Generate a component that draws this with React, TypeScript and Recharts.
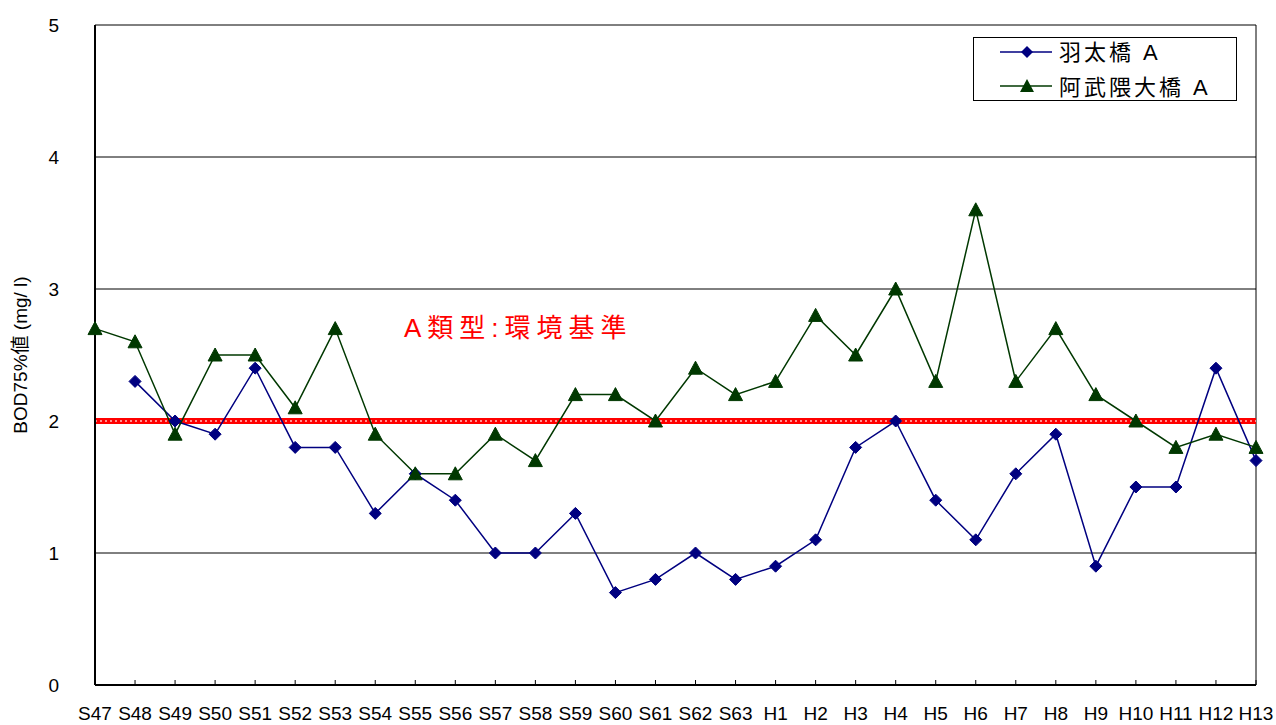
import { LineChart, Line, XAxis, YAxis, CartesianGrid, ReferenceLine, Label } from 'recharts';

const years = [
  'S47', 'S48', 'S49', 'S50', 'S51', 'S52', 'S53', 'S54', 'S55', 'S56',
  'S57', 'S58', 'S59', 'S60', 'S61', 'S62', 'S63', 'H1', 'H2', 'H3',
  'H4', 'H5', 'H6', 'H7', 'H8', 'H9', 'H10', 'H11', 'H12', 'H13',
];
const habuta = [
  null, 2.3, 2.0, 1.9, 2.4, 1.8, 1.8, 1.3, 1.6, 1.4,
  1.0, 1.0, 1.3, 0.7, 0.8, 1.0, 0.8, 0.9, 1.1, 1.8,
  2.0, 1.4, 1.1, 1.6, 1.9, 0.9, 1.5, 1.5, 2.4, 1.7,
];
const abukuma = [
  2.7, 2.6, 1.9, 2.5, 2.5, 2.1, 2.7, 1.9, 1.6, 1.6,
  1.9, 1.7, 2.2, 2.2, 2.0, 2.4, 2.2, 2.3, 2.8, 2.5,
  3.0, 2.3, 3.6, 2.3, 2.7, 2.2, 2.0, 1.8, 1.9, 1.8,
];
const yTicks = [0, 1, 2, 3, 4, 5];
const standard = 2;

const data = years.map((y, i) => ({ year: y, habuta: habuta[i], abukuma: abukuma[i] }));

const BLUE = '#000080';
const GREEN = '#003800';
const FONT = '"Liberation Sans", Arial, "Noto Sans CJK JP", sans-serif';

function Diamond(props: any) {
  const { cx, cy } = props;
  if (cx == null || cy == null || props.value == null) return null;
  const r = 6;
  return <path d={`M${cx},${cy - r}L${cx + r},${cy}L${cx},${cy + r}L${cx - r},${cy}Z`} fill={BLUE} stroke={BLUE} />;
}

function Triangle(props: any) {
  const { cx, cy } = props;
  if (cx == null || cy == null || props.value == null) return null;
  const r = 7;
  return <path d={`M${cx},${cy - r}L${cx + r},${cy + r - 1}L${cx - r},${cy + r - 1}Z`} fill={GREEN} stroke={GREEN} />;
}

function XTick(props: any) {
  const { x, y, payload } = props;
  return (
    <g>
      <line x1={x} x2={x} y1={y} y2={y - 5} stroke="#000" />
      <text x={x} y={y + 35} textAnchor="middle" fontSize={19} fill="#000" fontFamily={FONT}>
        {payload.value}
      </text>
    </g>
  );
}

function App() {
  return (
    <div style={{ position: 'absolute', left: 0, top: 0, width: 1276, height: 725, background: '#fff', fontFamily: FONT }}>
      <LineChart width={1276} height={725} data={data} margin={{ top: 25, right: 20, bottom: 0, left: 0 }}>
        <CartesianGrid vertical={false} stroke="#000" strokeWidth={1} />
        <XAxis
          dataKey="year"
          height={40}
          tickSize={0}
          tickMargin={0}
          tick={<XTick />}
          interval={0}
          stroke="#000"
          strokeWidth={2}
        />
        <YAxis
          width={95}
          domain={[0, 5]}
          ticks={yTicks}
          tickLine={false}
          tickMargin={30}
          stroke="#000"
          strokeWidth={2}
          tick={{ fontSize: 19, fill: '#000', fontFamily: FONT }}
        >
          <Label
            value="BOD75%値 (mg/ l)"
            angle={-90}
            position="insideLeft"
            offset={20}
            style={{ fontSize: 19, fill: '#000', fontFamily: FONT, textAnchor: 'middle' }}
          />
        </YAxis>
        <ReferenceLine x="H13" stroke="#000" strokeWidth={1} />
        <ReferenceLine y={standard} stroke="#ff0000" strokeWidth={6} />
        <ReferenceLine y={standard} stroke="#ff9090" strokeWidth={2} strokeDasharray="2 3" />
        <Line
          dataKey="habuta"
          name="羽太橋 A"
          stroke={BLUE}
          strokeWidth={1.5}
          dot={<Diamond />}
          isAnimationActive={false}
        />
        <Line
          dataKey="abukuma"
          name="阿武隈大橋 A"
          stroke={GREEN}
          strokeWidth={1.5}
          dot={<Triangle />}
          isAnimationActive={false}
        />
      </LineChart>
      <div
        style={{
          position: 'absolute',
          left: 404,
          top: 307,
          color: '#ff0000',
          fontSize: 26,
          letterSpacing: 6,
          fontFamily: FONT,
          whiteSpace: 'nowrap',
        }}
      >
        A類型:環境基準
      </div>
      <div
        style={{
          position: 'absolute',
          left: 973,
          top: 37,
          width: 264,
          height: 64,
          border: '1px solid #000',
          background: '#fff',
          boxSizing: 'border-box',
          fontFamily: FONT,
        }}
      >
        <svg width={262} height={62} style={{ position: 'absolute', left: 0, top: 0 }}>
          <line x1={26} x2={78} y1={14} y2={14} stroke={BLUE} strokeWidth={1.5} />
          <path d="M53,8L59,14L53,20L47,14Z" fill={BLUE} />
          <line x1={26} x2={78} y1={48} y2={48} stroke={GREEN} strokeWidth={1.5} />
          <path d="M53,41L60,54L46,54Z" fill={GREEN} />
          <text x={85} y={22} fontSize={22} letterSpacing={3} fill="#000" fontFamily={FONT}>羽太橋 A</text>
          <text x={85} y={57} fontSize={22} letterSpacing={3} fill="#000" fontFamily={FONT}>阿武隈大橋 A</text>
        </svg>
      </div>
    </div>
  );
}

export default App;
